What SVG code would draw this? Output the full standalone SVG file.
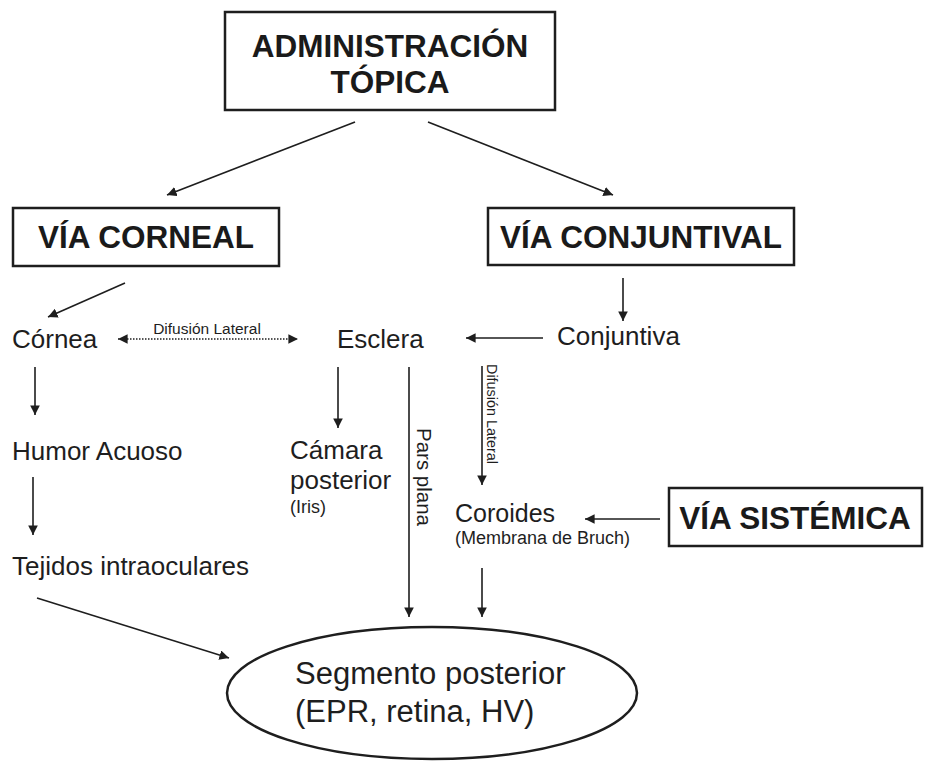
<svg xmlns="http://www.w3.org/2000/svg" width="928" height="762" viewBox="0 0 928 762">
<defs>
<style>
.box{fill:#fff;stroke:#1e1e1e;stroke-width:2.5}
.bt{font-family:"Liberation Sans",Arial,sans-serif;font-weight:bold;font-size:31.5px;fill:#1a1a1a;text-anchor:middle}
.t{font-family:"Liberation Sans",Arial,sans-serif;font-size:26px;fill:#1e1e1e}
.s{font-family:"Liberation Sans",Arial,sans-serif;font-size:18px;fill:#1e1e1e}
.xs{font-family:"Liberation Sans",Arial,sans-serif;font-size:15px;fill:#1e1e1e}
.ln{stroke:#1e1e1e;stroke-width:1.6;fill:none;marker-end:url(#ah)}
.dot{stroke:#1e1e1e;stroke-width:1.6;fill:none;stroke-dasharray:1.5 1.5;marker-end:url(#ah);marker-start:url(#ahs)}
</style>
<marker id="ah" viewBox="0 0 10 10" refX="10" refY="5" markerWidth="6" markerHeight="6" orient="auto" markerUnits="strokeWidth">
<path d="M0,0 L10,5 L0,10 z" fill="#1e1e1e"/>
</marker>
<marker id="ahs" viewBox="0 0 10 10" refX="0" refY="5" markerWidth="6" markerHeight="6" orient="auto" markerUnits="strokeWidth">
<path d="M10,0 L0,5 L10,10 z" fill="#1e1e1e"/>
</marker>
</defs>
<rect width="928" height="762" fill="#fff"/>

<g id="topica">
<rect class="box" x="225" y="12" width="330" height="98"/>
<text class="bt" x="390" y="57">ADMINISTRACIÓN</text>
<text class="bt" x="390" y="93">TÓPICA</text>
</g>
<g id="via-corneal">
<rect class="box" x="13" y="208" width="266" height="58"/>
<text class="bt" x="146" y="248">VÍA CORNEAL</text>
</g>
<g id="via-conjuntival">
<rect class="box" x="488" y="208" width="306" height="57"/>
<text class="bt" x="641" y="248">VÍA CONJUNTIVAL</text>
</g>
<g id="via-sistemica">
<rect class="box" x="669" y="488" width="253" height="58"/>
<text class="bt" x="795" y="529">VÍA SISTÉMICA</text>
</g>
<g id="cornea"><text class="t" x="12" y="348">Córnea</text></g>
<g id="esclera"><text class="t" x="337" y="348">Esclera</text></g>
<g id="conjuntiva"><text class="t" x="557" y="345">Conjuntiva</text></g>
<g id="humor"><text class="t" x="12" y="460">Humor Acuoso</text></g>
<g id="tejidos"><text class="t" x="12" y="575">Tejidos intraoculares</text></g>
<g id="camara">
<text class="t" x="290" y="459">Cámara</text>
<text class="t" x="290" y="489">posterior</text>
<text class="s" x="290" y="513">(Iris)</text>
</g>
<g id="coroides">
<text class="t" x="455" y="522" style="font-size:25px">Coroides</text>
<text class="s" x="455" y="544">(Membrana de Bruch)</text>
</g>
<g id="segmento">
<ellipse cx="432" cy="693" rx="205" ry="66" fill="none" stroke="#1e1e1e" stroke-width="2.5"/>
<text class="t" x="295" y="684" style="font-size:31px">Segmento posterior</text>
<text class="t" x="295" y="722" style="font-size:31px">(EPR, retina, HV)</text>
</g>

<g id="connectors">
<line class="ln" x1="355" y1="122" x2="167" y2="195"/>
<line class="ln" x1="428" y1="122" x2="613" y2="195"/>
<line class="ln" x1="125" y1="283" x2="48" y2="317"/>
<line class="ln" x1="623" y1="278" x2="623" y2="321"/>
<line class="ln" x1="543" y1="338" x2="466" y2="338"/>
<line class="dot" x1="118" y1="339" x2="298" y2="339"/>
<text class="xs" x="207" y="334" text-anchor="middle" style="font-size:15.5px">Difusión Lateral</text>
<line class="ln" x1="35" y1="367" x2="35" y2="415"/>
<line class="ln" x1="33" y1="477" x2="33" y2="535"/>
<line class="ln" x1="37" y1="598" x2="229" y2="658"/>
<line class="ln" x1="338" y1="367" x2="338" y2="428"/>
<line class="ln" x1="409" y1="367" x2="409" y2="617"/>
<text class="t" transform="translate(417,428) rotate(90)" style="font-size:20.5px">Pars plana</text>
<line class="ln" x1="482" y1="366" x2="482" y2="485"/>
<text class="xs" transform="translate(487,364) rotate(90)" style="font-size:14.4px">Difusión Lateral</text>
<line class="ln" x1="660" y1="519" x2="585" y2="519"/>
<line class="ln" x1="482" y1="568" x2="482" y2="617"/>
</g>
</svg>
